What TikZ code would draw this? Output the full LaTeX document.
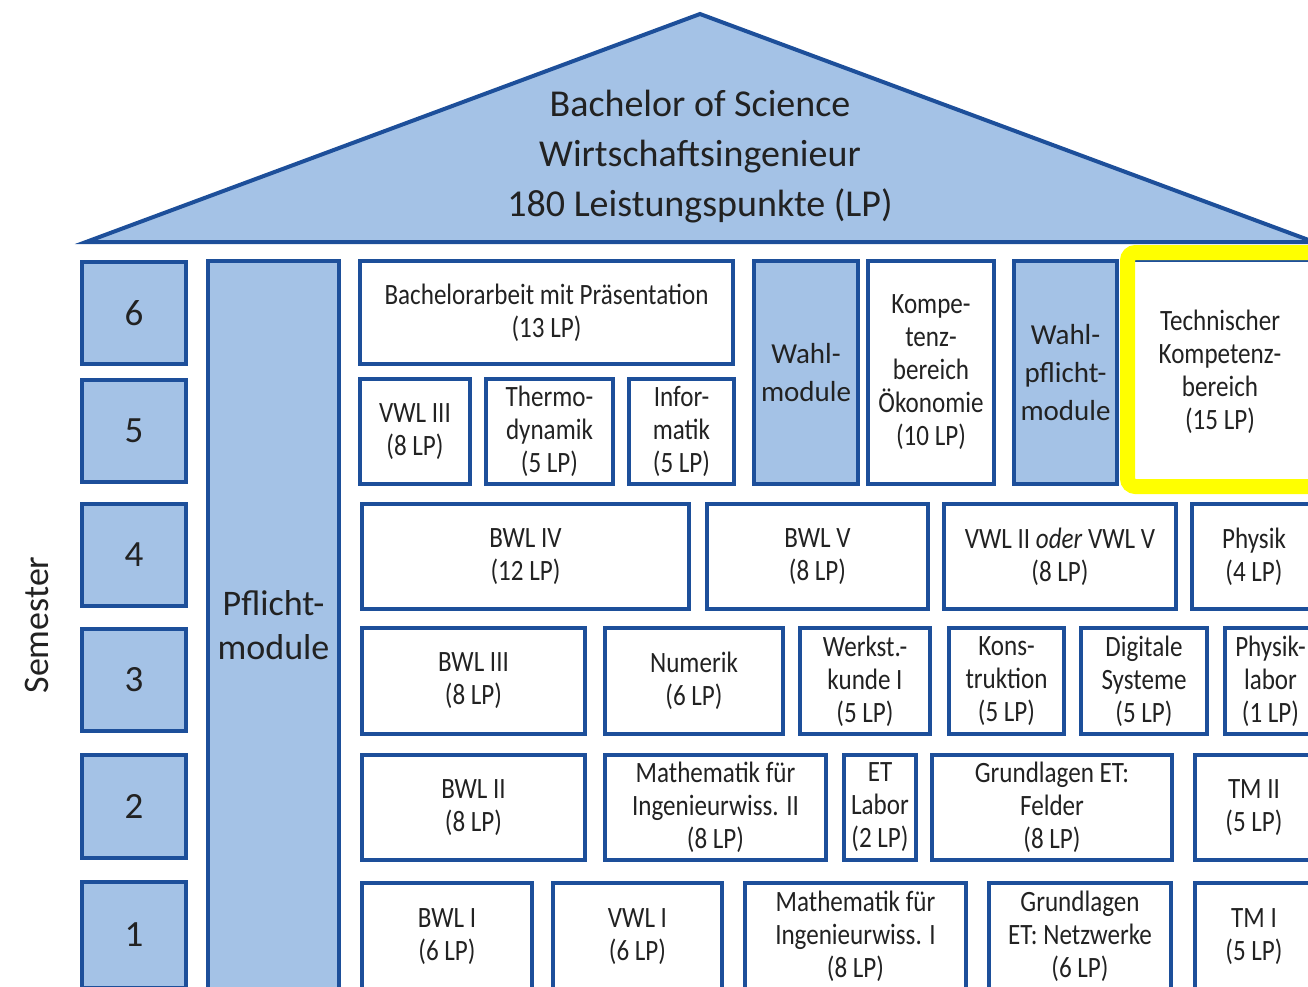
\documentclass[tikz,border=0pt]{standalone}
\usepackage{fontspec}
\setmainfont{Carlito}
\newfontfamily\modfont{Carlito}[FakeStretch=0.85]
\definecolor{lb}{HTML}{A4C2E6}
\definecolor{db}{HTML}{1D4F9A}
\definecolor{txt}{HTML}{222222}
\definecolor{hl}{HTML}{FFFF00}
\newcommand\ModBox[7][mod]{%
  \node[#1, minimum width={#5-#3-4}, minimum height={#6-#4-4}] (#2) at ({(#3+#5)/2},{(#4+#6)/2}) {#7};}
\tikzset{
  mod/.style={draw=db, line width=4pt, fill=white, inner sep=0pt, align=center, text=txt,
    font=\modfont\fontsize{29.5}{33}\selectfont},
  blu/.style={mod, fill=lb},
  wahl/.style={blu, font=\fontsize{29}{38}\selectfont},
  sembox/.style={blu, font=\fontsize{37}{37}\selectfont},
  pflicht/.style={blu, font=\fontsize{36}{44}\selectfont},
  roof/.style={draw=db, fill=lb, line width=4pt},
  highlight/.style={draw=hl, line width=15pt, rounded corners=8pt},
}
\begin{document}
\begin{tikzpicture}[x=1pt,y=-1pt]
\useasboundingbox (0,0) rectangle (1308,986);
\clip (0,0) rectangle (1308,986);
% roof
\path[roof] (86,242) coordinate (rl) -- (700,14) coordinate (ra) -- (1314,242) coordinate (rr) -- cycle;
\node[align=center, text=txt, font=\fontsize{38}{50}\selectfont] (title) at (700,157)
  {Bachelor of Science\\Wirtschaftsingenieur\\180 Leistungspunkte (LP)};
% semester label
\node[rotate=90, text=txt, font=\fontsize{36}{36}\selectfont] (sem) at (37,625) {Semester};
% semester boxes
\ModBox[sembox]{s6}{80}{260}{188}{366}{6}
\ModBox[sembox]{s5}{80}{378}{188}{484}{5}
\ModBox[sembox]{s4}{80}{502}{188}{608}{4}
\ModBox[sembox]{s3}{80}{627}{188}{733}{3}
\ModBox[sembox]{s2}{80}{753}{188}{860}{2}
\ModBox[sembox]{s1}{80}{880}{188}{990}{1}
% Pflichtmodule
\ModBox[pflicht]{pfl}{206}{259}{341}{992}{Pflicht-\\module}
% semester 6/5
\ModBox{ba}{358}{259}{735}{366}{Bachelorarbeit mit Präsentation\\(13 LP)}
\ModBox{vwl3}{358}{377}{472}{486}{VWL III\\(8 LP)}
\ModBox{thermo}{484}{377}{615}{486}{Thermo-\\dynamik\\(5 LP)}
\ModBox{info}{627}{377}{736}{486}{Infor-\\matik\\(5 LP)}
\ModBox[wahl]{wahl}{752}{259}{860}{486}{Wahl-\\module}
\ModBox{koeko}{866}{259}{996}{486}{Kompe-\\tenz-\\bereich\\Ökonomie\\(10 LP)}
\ModBox[wahl]{wpf}{1012}{259}{1119}{486}{Wahl-\\pflicht-\\module}
\ModBox{tech}{1126}{258}{1314}{486}{Technischer\\Kompetenz-\\bereich\\(15 LP)}
\draw[highlight] (1127.5,252.5) rectangle (1318,486.5);
% semester 4
\ModBox{bwl4}{360}{502}{691}{611}{BWL IV\\(12 LP)}
\ModBox{bwl5}{705}{502}{930}{611}{BWL V\\(8 LP)}
\ModBox{vwl25}{942}{502}{1178}{611}{VWL II \textit{oder} VWL V\\(8 LP)}
\ModBox{phys}{1190}{502}{1318}{611}{Physik\\(4 LP)}
% semester 3
\ModBox{bwl3}{360}{626}{587}{736}{BWL III\\(8 LP)}
\ModBox{num}{603}{626}{785}{736}{Numerik\\(6 LP)}
\ModBox{werk}{798}{626}{932}{736}{Werkst.-\\kunde I\\(5 LP)}
\ModBox{kons}{947}{626}{1066}{736}{Kons-\\truktion\\(5 LP)}
\ModBox{dig}{1079}{626}{1209}{736}{Digitale\\Systeme\\(5 LP)}
\ModBox{plab}{1223}{626}{1318}{736}{Physik-\\labor\\(1 LP)}
% semester 2
\ModBox{bwl2}{360}{753}{587}{862}{BWL II\\(8 LP)}
\ModBox{math2}{603}{753}{828}{862}{Mathematik für\\Ingenieurwiss. II\\(8 LP)}
\ModBox{etl}{842}{753}{918}{862}{ET\\Labor\\(2 LP)}
\ModBox{gef}{930}{753}{1174}{862}{Grundlagen ET:\\Felder\\(8 LP)}
\ModBox{tm2}{1193}{753}{1315}{862}{TM II\\(5 LP)}
% semester 1
\ModBox{bwl1}{360}{881}{534}{992}{BWL I\\(6 LP)}
\ModBox{vwl1}{551}{881}{724}{992}{VWL I\\(6 LP)}
\ModBox{math1}{743}{881}{968}{992}{Mathematik für\\Ingenieurwiss. I\\(8 LP)}
\ModBox{gen}{987}{881}{1173}{992}{Grundlagen\\ET: Netzwerke\\(6 LP)}
\ModBox{tm1}{1193}{881}{1315}{992}{TM I\\(5 LP)}
\end{tikzpicture}
\end{document}
